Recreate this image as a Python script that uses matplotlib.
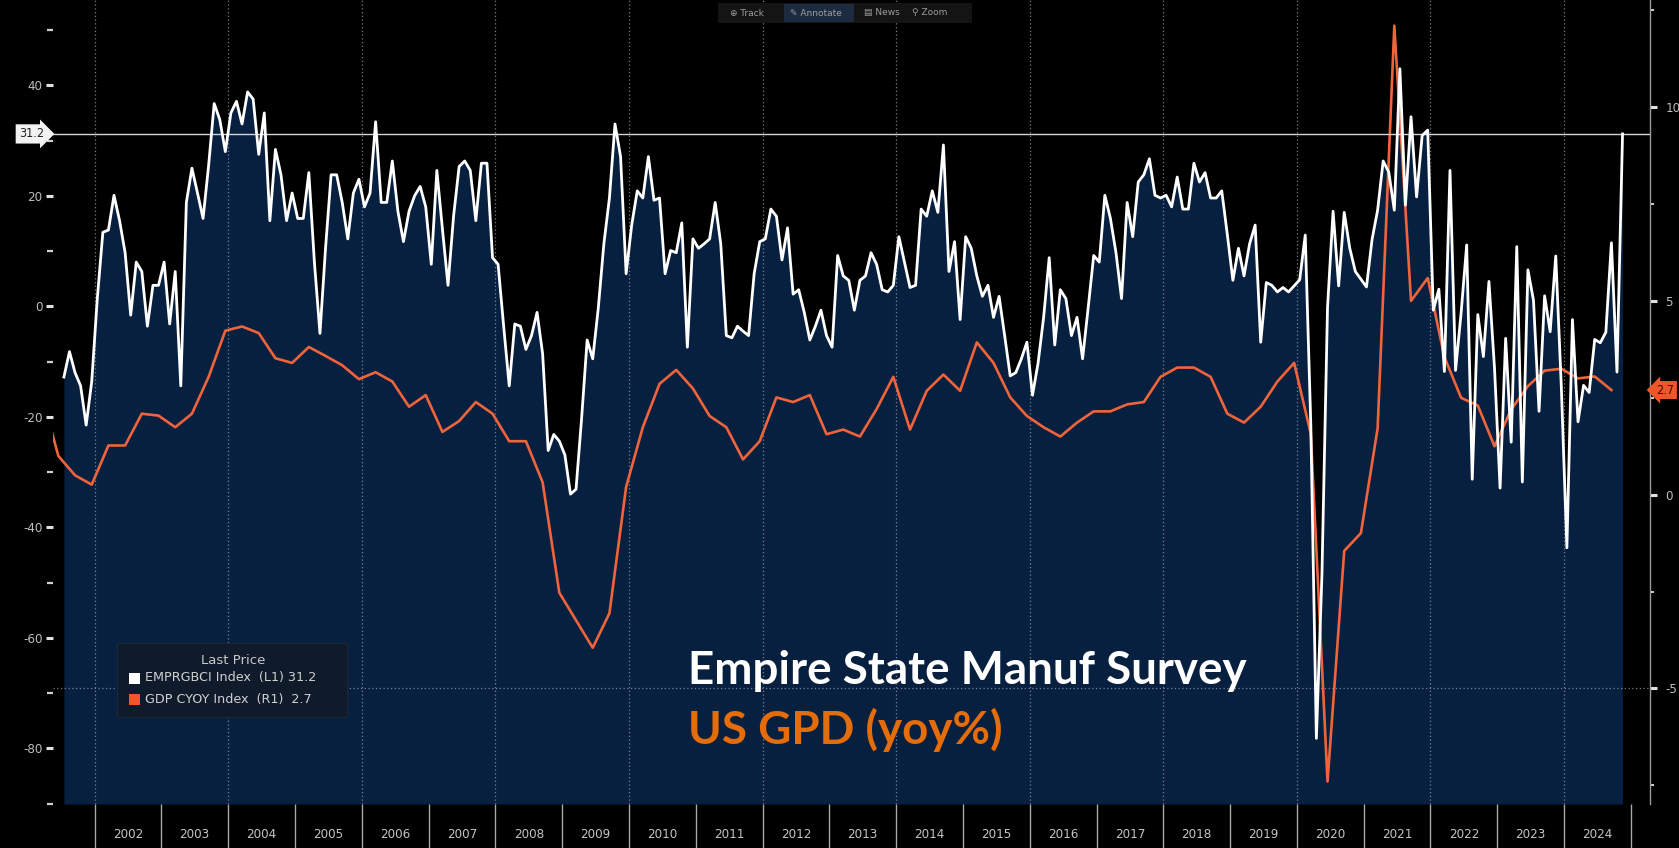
import matplotlib
matplotlib.use("Agg")
import matplotlib.pyplot as plt
import matplotlib.transforms as mtransforms
from matplotlib.patches import Rectangle

# ---------------- data ----------------
# Empire State Manufacturing Survey (EMPRGBCI), monthly, starting Jul 2001
emp_start_year, emp_start_month = 2001, 7
emp_2001 = [-12.8, -8.2, -12.0, -14.4, -21.5, -13.6]
emp_2002 = [1.4, 13.4, 13.8, 20.1, 15.5, 9.7, -1.6, 8.0, 6.3, -3.6, 3.8, 3.8]
emp_2003 = [8.0, -3.2, 6.3, -14.4, 18.8, 25.0, 20.5, 15.9, 25.5, 36.7, 33.8, 28.0]
emp_2004 = [35.0, 37.1, 33.0, 38.8, 37.5, 27.5, 35.0, 15.5, 28.4, 23.8, 15.5, 20.5]
emp_2005 = [15.9, 15.9, 24.2, 8.0, -4.9, 10.5, 23.8, 23.8, 18.8, 12.2, 20.5, 23.0]
emp_2006 = [18.0, 20.5, 33.4, 18.8, 18.8, 26.3, 17.2, 11.7, 17.2, 20.0, 21.7, 18.0]
emp_2007 = [7.6, 24.6, 14.0, 3.8, 16.3, 25.3, 26.3, 24.6, 15.5, 25.9, 25.9, 8.8]
emp_2008 = [7.6, -3.6, -14.4, -3.2, -3.6, -7.8, -5.3, -1.1, -8.6, -26.1, -23.2, -24.4]
emp_2009 = [-26.9, -34.0, -33.1, -20.3, -6.1, -9.5, -0.3, 11.3, 19.6, 33.0, 27.1, 5.9]
emp_2010 = [14.7, 20.9, 19.6, 27.1, 19.2, 19.6, 5.9, 10.1, 9.7, 15.1, -7.4, 12.2]
emp_2011 = [10.5, 11.3, 12.2, 18.8, 11.3, -5.3, -5.7, -3.6, -4.5, -5.3, 5.9, 11.7]
emp_2012 = [12.2, 17.6, 16.3, 8.4, 14.2, 2.2, 3.0, -1.1, -6.1, -3.6, -0.7, -5.3]
emp_2013 = [-7.4, 9.2, 5.5, 4.7, -0.7, 4.7, 5.5, 9.7, 7.6, 3.0, 2.6, 3.8]
emp_2014 = [12.6, 8.0, 3.4, 3.8, 17.6, 16.3, 20.9, 17.0, 29.2, 6.3, 11.7, -2.4]
emp_2015 = [12.6, 10.5, 5.5, 1.8, 3.8, -2.0, 1.8, -5.3, -12.6, -12.0, -9.5, -6.5]
emp_2016 = [-16.1, -10.3, -2.0, 8.8, -7.0, 3.0, 1.4, -5.3, -2.0, -9.5, -0.3, 9.2]
emp_2017 = [8.0, 20.1, 15.9, 9.7, 1.4, 18.8, 12.6, 22.5, 23.8, 26.7, 20.1, 19.6]
emp_2018 = [20.1, 18.0, 23.4, 17.6, 17.6, 25.9, 22.5, 24.2, 19.6, 19.6, 20.9, 13.0]
emp_2019 = [4.7, 10.5, 5.5, 11.3, 14.7, -6.5, 4.3, 3.8, 2.6, 3.4, 2.6, 3.7]
emp_2020 = [4.8, 12.9, -21.5, -78.2, -48.5, -0.2, 17.2, 3.7, 17.0, 10.5, 6.3, 4.9]
emp_2021 = [3.5, 12.1, 17.4, 26.3, 24.3, 17.4, 43.0, 18.3, 34.3, 19.8, 30.9, 31.9]
emp_2022 = [-0.7, 3.1, -11.8, 24.6, -11.6, -1.2, 11.1, -31.3, -1.5, -9.1, 4.5, -11.2]
emp_2023 = [-32.9, -5.8, -24.6, 10.8, -31.8, 6.6, 1.1, -19.0, 1.9, -4.6, 9.1, -14.5]
emp_2024 = [-43.7, -2.4, -20.9, -14.3, -15.6, -6.0, -6.6, -4.7, 11.5, -11.9, 31.2]

# US GDP YoY % (GDP CYOY), quarterly, starting Q1 2001
gdp_start_year = 2001
gdp_2001 = [2.6, 1.0, 0.5, 0.26]
gdp_2002 = [1.27, 1.27, 2.09, 2.04]
gdp_2003 = [1.74, 2.09, 3.04, 4.23]
gdp_2004 = [4.34, 4.17, 3.52, 3.40]
gdp_2005 = [3.81, 3.58, 3.34, 2.98]
gdp_2006 = [3.16, 2.92, 2.27, 2.57]
gdp_2007 = [1.62, 1.90, 2.39, 2.09]
gdp_2008 = [1.38, 1.38, 0.32, -2.53]
gdp_2009 = [-3.24, -3.95, -3.06, 0.20]
gdp_2010 = [1.74, 2.86, 3.22, 2.74]
gdp_2011 = [2.03, 1.74, 0.91, 1.38]
gdp_2012 = [2.51, 2.39, 2.57, 1.56]
gdp_2013 = [1.68, 1.50, 2.21, 3.04]
gdp_2014 = [1.68, 2.68, 3.10, 2.68]
gdp_2015 = [3.93, 3.40, 2.51, 2.03]
gdp_2016 = [1.74, 1.50, 1.86, 2.15]
gdp_2017 = [2.15, 2.33, 2.39, 3.04]
gdp_2018 = [3.28, 3.28, 3.04, 2.09]
gdp_2019 = [1.86, 2.27, 2.92, 3.40]
gdp_2020 = [1.57, -7.40, -1.45, -0.99]
gdp_2021 = [1.71, 12.10, 5.00, 5.59]
gdp_2022 = [3.55, 2.50, 2.30, 1.25]
gdp_2023 = [2.20, 2.80, 3.20, 3.25]
gdp_2024 = [3.00, 3.05, 2.70]

year_labels = [str(y) for y in range(2002, 2025)]
left_major = [-80, -60, -40, -20, 0, 20, 40]
left_minor = [-90, -70, -50, -30, -10, 10, 30, 50]
right_major = [-5, 0, 5, 10]
right_minor = [-7.5, -2.5, 2.5, 7.5, 12.5]
last_emp = 31.2
last_gdp = 2.7
legend_rows = ["EMPRGBCI Index  (L1) 31.2", "GDP CYOY Index  (R1)  2.7"]

# ---------------- assemble series ----------------
emp = (emp_2001 + emp_2002 + emp_2003 + emp_2004 + emp_2005 + emp_2006 + emp_2007
       + emp_2008 + emp_2009 + emp_2010 + emp_2011 + emp_2012 + emp_2013 + emp_2014
       + emp_2015 + emp_2016 + emp_2017 + emp_2018 + emp_2019 + emp_2020 + emp_2021
       + emp_2022 + emp_2023 + emp_2024)
x_emp = [emp_start_year + (emp_start_month - 1 + i + 0.5) / 12.0 for i in range(len(emp))]

gdp = (gdp_2001 + gdp_2002 + gdp_2003 + gdp_2004 + gdp_2005 + gdp_2006 + gdp_2007
       + gdp_2008 + gdp_2009 + gdp_2010 + gdp_2011 + gdp_2012 + gdp_2013 + gdp_2014
       + gdp_2015 + gdp_2016 + gdp_2017 + gdp_2018 + gdp_2019 + gdp_2020 + gdp_2021
       + gdp_2022 + gdp_2023 + gdp_2024)
x_gdp = [gdp_start_year + (3 * (i + 1) - 0.5) / 12.0 for i in range(len(gdp))]

# ---------------- style ----------------
plt.rcParams["axes.unicode_minus"] = False
W, H = 1679, 848
NAVY = "#08203f"
ORANGE_LINE = "#f0643c"
ORANGE_TXT = "#e46c0a"
TICK_FONT = ["DejaVu Sans"]

fig = plt.figure(figsize=(W / 100, H / 100), dpi=100, facecolor="black")

def fx(px):
    return px / W

def fy(py):
    return 1 - py / H

ax_left, ax_right, ax_bottom = 53.5, 1650.0, 804.0
rect = [fx(ax_left), fy(ax_bottom), fx(ax_right - ax_left), ax_bottom / H]

ax = fig.add_axes(rect)
ax.set_facecolor("black")
ax.set_xlim(2001.386, 2025.286)
ax.set_ylim(-90.08, 55.44)
ymin_left = ax.get_ylim()[0]

ax2 = ax.twinx()
ax2.set_ylim(-7.98, 12.763)

ax3 = fig.add_axes(rect, sharex=ax, sharey=ax)
ax3.set_axis_off()
ax3.patch.set_visible(False)

ax.set_zorder(1)
ax2.set_zorder(2)
ax3.set_zorder(3)
ax2.patch.set_visible(False)

for a in (ax, ax2):
    for s in a.spines.values():
        s.set_visible(False)
ax2.spines["right"].set_visible(True)
ax2.spines["right"].set_color("#9a9a9a")
ax2.spines["right"].set_linewidth(1.0)

# area fill under the Empire State line
ax.fill_between(x_emp, emp, ymin_left, color=NAVY, lw=0, zorder=1)

# dotted grid (every other year) and one horizontal line
for yr in range(2002, 2025, 2):
    ax.axvline(yr, color="#8a94a3", lw=0.9, ls=(0, (1, 2)), alpha=0.85, zorder=2)
ax2.axhline(-5, color="#8a94a3", lw=0.9, ls=(0, (1, 2)), alpha=0.85, zorder=1)

# series
ax2.plot(x_gdp, gdp, color=ORANGE_LINE, lw=1.9, zorder=3, solid_joinstyle="round")
ax3.plot(x_emp, emp, color="white", lw=2.0, zorder=3, solid_joinstyle="round")
ax3.axhline(last_emp, color="#d4d4d4", lw=1.0, zorder=2)

# last-value tags
ax3.text(-0.006, last_emp, "31.2",
         transform=mtransforms.blended_transform_factory(ax3.transAxes, ax3.transData),
         ha="right", va="center", fontsize=9, color="#222222", family=TICK_FONT,
         fontstretch="condensed",
         bbox=dict(boxstyle="rarrow,pad=0.25", fc="#f2f2f2", ec="none"), clip_on=False)
ax2.text(1.004, last_gdp, "2.7",
         transform=mtransforms.blended_transform_factory(ax2.transAxes, ax2.transData),
         ha="left", va="center", fontsize=9, color="#3a1000", family=TICK_FONT,
         fontstretch="condensed",
         bbox=dict(boxstyle="larrow,pad=0.2", fc="#f0562a", ec="none"), clip_on=False)

# left axis ticks
ax.set_yticks(left_major)
ax.set_yticklabels([str(v) for v in left_major], family=TICK_FONT, fontstretch="condensed")
ax.set_yticks(left_minor, minor=True)
ax.tick_params(axis="y", which="major", direction="out", length=5, width=2.2,
               color="#e0e0e0", labelcolor="#bdbdbd", labelsize=9.5, pad=3)
ax.tick_params(axis="y", which="minor", direction="out", length=4, width=1.6,
               color="#cfcfcf")

# right axis ticks
ax2.set_yticks(right_major)
ax2.set_yticklabels([str(v) for v in right_major], family=TICK_FONT, fontstretch="condensed")
ax2.set_yticks(right_minor, minor=True)
ax2.tick_params(axis="y", which="major", direction="out", length=5, width=2.2,
                color="#e0e0e0", labelcolor="#bdbdbd", labelsize=9.5, pad=6)
ax2.tick_params(axis="y", which="minor", direction="out", length=3, width=1.4,
                color="#cfcfcf")

# x axis: year separators and centred labels
ax.set_xticks(list(range(2002, 2026)))
ax.set_xticklabels([""] * len(range(2002, 2026)))
ax.set_xticks([int(y) + 0.5 for y in year_labels], minor=True)
ax.set_xticklabels(year_labels, minor=True, family=TICK_FONT, fontstretch="condensed")
ax.tick_params(axis="x", which="major", direction="out", length=31.7, width=1.0,
               color="#a8a8a8")
ax.tick_params(axis="x", which="minor", length=0, pad=17, labelcolor="#c4c4c4",
               labelsize=9.5)

# legend box (Bloomberg style)
fig.patches.append(Rectangle((fx(117), fy(717)), fx(347 - 117), (717 - 643) / H,
                             transform=fig.transFigure, fc="#0f1a2b", ec="#1c2636",
                             lw=0.8, zorder=5))
fig.text(fx(233), fy(661), "Last Price", ha="center", va="center", fontsize=9.5,
         color="#c8c8c8", family="DejaVu Sans", zorder=6)
fig.patches.append(Rectangle((fx(129), fy(684)), fx(11), 11 / H, transform=fig.transFigure,
                             fc="white", ec="none", zorder=6))
fig.patches.append(Rectangle((fx(129), fy(705)), fx(11), 11 / H, transform=fig.transFigure,
                             fc="#f0562a", ec="none", zorder=6))
fig.text(fx(145), fy(678), legend_rows[0], ha="left", va="center", fontsize=9.2,
         color="#d0d0d0", family="DejaVu Sans", zorder=6)
fig.text(fx(145), fy(699), legend_rows[1], ha="left", va="center", fontsize=9.2,
         color="#d0d0d0", family="DejaVu Sans", zorder=6)

# toolbar at the top
fig.patches.append(Rectangle((fx(718), fy(23)), fx(972 - 718), 20 / H, transform=fig.transFigure,
                             fc="#141414", ec="none", zorder=5))
fig.patches.append(Rectangle((fx(784), fy(22)), fx(70), 18 / H, transform=fig.transFigure,
                             fc="#1d2b40", ec="none", zorder=5))
for xpx, lab in [(730, "\u2295 Track"), (790, "\u270e Annotate"), (864, "\u25a4 News"),
                 (912, "\u26b2 Zoom")]:
    fig.text(fx(xpx), fy(13), lab, ha="left", va="center", fontsize=6.5,
             color="#9c9c9c", family="DejaVu Sans", zorder=6)

# overlay captions
t1 = fig.text(fx(688), fy(684), "Empire State Manuf Survey", fontsize=30,
              family=["Lato", "DejaVu Sans"], fontweight="bold", color="white",
              ha="left", va="baseline", zorder=7)
t2 = fig.text(fx(688), fy(744), "US GPD (yoy%)", fontsize=30,
              family=["Lato", "DejaVu Sans"], fontweight="bold", color=ORANGE_TXT,
              ha="left", va="baseline", zorder=7)
fig.canvas.draw()
rend = fig.canvas.get_renderer()
w1 = t1.get_window_extent(rend).width
fs = 30 * 559.0 / w1
t1.set_fontsize(fs)
t2.set_fontsize(fs)

fig.savefig("out.png", dpi=100, facecolor="black")
